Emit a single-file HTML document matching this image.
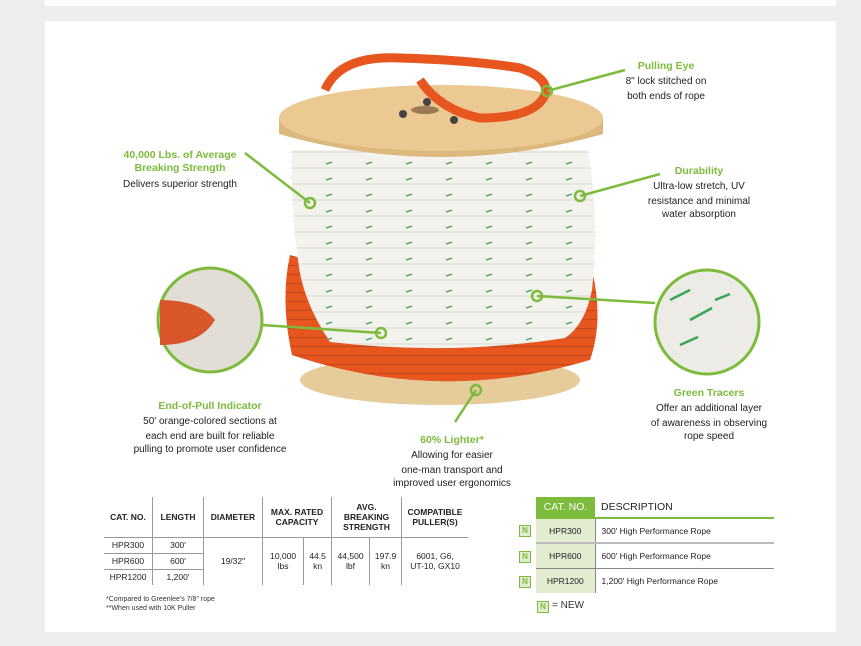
<!DOCTYPE html>
<html><head><style>
body{margin:0;width:861px;height:646px;background:#eeeeee;font-family:"Liberation Sans",sans-serif;position:relative;overflow:hidden}
.p{position:absolute;background:#fff}
.t{position:absolute;text-align:center;font-size:10px;color:#222;line-height:12.3px;transform:translateX(-50%);white-space:nowrap}
.h{color:#7dbb3c;font-weight:bold;font-size:10.5px;line-height:13px}
table{border-collapse:collapse;position:absolute;font-size:9px;color:#222}
</style></head><body>
<div class="p" style="left:45px;top:0;width:791px;height:6px"></div>
<div class="p" style="left:45px;top:21px;width:791px;height:611px"></div>
<svg style="position:absolute;left:0;top:0" width="861" height="646">
<defs>
<pattern id="g" width="40" height="16" patternUnits="userSpaceOnUse"><rect width="40" height="16" fill="#f3f2ec"/><path d="M0 8h40" stroke="#e2e1da" stroke-width="1.5"/><path d="M6 4l6 -2" stroke="#3aa55a" stroke-width="1.3"/></pattern>
<pattern id="o" width="20" height="9" patternUnits="userSpaceOnUse"><rect width="20" height="9" fill="#e8561f"/><path d="M0 4.5h20" stroke="#c54a1b" stroke-width="1.2"/></pattern>
</defs>
<ellipse cx="440" cy="380" rx="140" ry="25" fill="#e6cc9b"/>
<path d="M290 255 Q280 300 292 355 Q440 405 590 360 Q604 320 592 270 Q440 300 290 255Z" fill="url(#o)"/>
<path d="M292 150 L588 150 Q600 220 592 290 Q585 325 565 338 Q450 356 330 342 Q302 300 298 260 Q290 200 292 150Z" fill="url(#g)"/>
<path d="M279 118 L279 134 Q440 180 603 134 L603 118Z" fill="#dcb77e"/>
<ellipse cx="441" cy="118" rx="162" ry="33" fill="#ecc992"/>
<ellipse cx="425" cy="110" rx="14" ry="4" fill="#9b7a55"/>
<circle cx="403" cy="114" r="4" fill="#444"/><circle cx="427" cy="102" r="4" fill="#444"/><circle cx="454" cy="120" r="4" fill="#444"/>
<path d="M325 90 Q340 55 400 58 Q470 60 520 68 Q550 78 545 95 Q535 118 480 118 Q440 110 420 80" fill="none" stroke="#e8561f" stroke-width="9"/>
<circle cx="210" cy="320" r="52" fill="#e2ddd5" stroke="#7dbb3c" stroke-width="3"/>
<path d="M160 300 Q200 300 215 320 Q200 345 160 345Z" fill="#d9562a"/>
<circle cx="707" cy="322" r="52" fill="#ecebe6" stroke="#7dbb3c" stroke-width="3"/>
<path d="M670 300l20 -10M690 320l22 -12M680 345l18 -8M715 300l15 -6" stroke="#3aa55a" stroke-width="2.5"/>
<g stroke="#7dbb3c" stroke-width="2.5" fill="none">
<path d="M547 91L625 70M310 203L245 153M580 196L660 174M537 296L655 303M381 333L262 325M476 390L455 422"/>
<circle cx="547" cy="91" r="5"/><circle cx="310" cy="203" r="5"/><circle cx="580" cy="196" r="5"/><circle cx="537" cy="296" r="5"/><circle cx="381" cy="333" r="5"/><circle cx="476" cy="390" r="5"/>
</g>
</svg>
<div class="t" style="left:666px;top:60px"><span class="h">Pulling Eye</span><br><span style="line-height:18px">8" lock stitched on</span><br>both ends of rope</div>
<div class="t" style="left:180px;top:149px"><span class="h">40,000 Lbs. of Average<br>Breaking Strength</span><br><span style="line-height:18px">Delivers superior strength</span></div>
<div class="t" style="left:699px;top:165px"><span class="h">Durability</span><br><span style="line-height:18px">Ultra-low stretch, UV</span><br>resistance and minimal<br>water absorption</div>
<div class="t" style="left:709px;top:387px"><span class="h">Green Tracers</span><br><span style="line-height:18px">Offer an additional layer</span><br>of awareness in observing<br>rope speed</div>
<div class="t" style="left:210px;top:400px"><span class="h">End-of-Pull Indicator</span><br><span style="line-height:18px">50' orange-colored sections at</span><br>each end are built for reliable<br>pulling to promote user confidence</div>
<div class="t" style="left:452px;top:434px"><span class="h">60% Lighter*</span><br><span style="line-height:18px">Allowing for easier</span><br>one-man transport and<br>improved user ergonomics</div>
<table style="left:104px;top:497px;text-align:center;font-size:8.5px">
<tr style="font-weight:bold;height:40px;border-bottom:1px solid #999"><td style="width:46px">CAT. NO.</td><td style="width:48px;border-left:1px solid #999">LENGTH</td><td style="width:56px;border-left:1px solid #999">DIAMETER</td><td colspan="2" style="width:66px;border-left:1px solid #999">MAX. RATED<br>CAPACITY</td><td colspan="2" style="width:67px;border-left:1px solid #999">AVG.<br>BREAKING<br>STRENGTH</td><td style="width:64px;border-left:1px solid #999">COMPATIBLE<br>PULLER(S)</td></tr>
<tr style="height:16px;border-bottom:1px solid #999"><td>HPR300</td><td style="border-left:1px solid #999">300'</td><td rowspan="3" style="border-left:1px solid #999">19/32"</td><td rowspan="3" style="border-left:1px solid #999">10,000<br>lbs</td><td rowspan="3" style="border-left:1px solid #999">44.5<br>kn</td><td rowspan="3" style="border-left:1px solid #999">44,500<br>lbf</td><td rowspan="3" style="border-left:1px solid #999">197.9<br>kn</td><td rowspan="3" style="border-left:1px solid #999">6001, G6,<br>UT-10, GX10</td></tr>
<tr style="height:16px;border-bottom:1px solid #999"><td>HPR600</td><td style="border-left:1px solid #999">600'</td></tr>
<tr style="height:16px"><td>HPR1200</td><td style="border-left:1px solid #999">1,200'</td></tr>
</table>
<div style="position:absolute;left:106px;top:595px;font-size:7px;line-height:9px;color:#333">*Compared to Greenlee's 7/8" rope<br>**When used with 10K Puller</div>
<table style="left:536px;top:497px;font-size:8.5px">
<tr style="height:21px;border-bottom:2px solid #7dbb3c"><td style="width:57px;background:#7dbb3c;color:#fff;font-size:10.5px;text-align:center">CAT. NO.</td><td style="width:172px;padding-left:6px;font-size:10.5px">DESCRIPTION</td></tr>
<tr style="height:25px;border-bottom:2px solid #bbb"><td style="background:#e1ecd0;text-align:center;border-right:1px solid #888">HPR300</td><td style="padding-left:6px">300' High Performance Rope</td></tr>
<tr style="height:25px;border-bottom:1px solid #888"><td style="background:#e1ecd0;text-align:center;border-right:1px solid #888">HPR600</td><td style="padding-left:6px">600' High Performance Rope</td></tr>
<tr style="height:25px"><td style="background:#e1ecd0;text-align:center;border-right:1px solid #888">HPR1200</td><td style="padding-left:6px">1,200' High Performance Rope</td></tr>
</table>
<div style="position:absolute;left:519px;top:525px;font-size:8px;line-height:10px;color:#7dbb3c;font-weight:bold">
<div style="position:absolute;top:0;border:1px solid #7dbb3c;background:#e1ecd0;width:10px;text-align:center">N</div>
<div style="position:absolute;top:26px;border:1px solid #7dbb3c;background:#e1ecd0;width:10px;text-align:center">N</div>
<div style="position:absolute;top:51px;border:1px solid #7dbb3c;background:#e1ecd0;width:10px;text-align:center">N</div>
<div style="position:absolute;left:18px;top:76px;border:1px solid #7dbb3c;background:#e1ecd0;width:10px;text-align:center">N</div>
<div style="position:absolute;left:33px;top:76px;color:#333;font-weight:normal;font-size:10px;white-space:nowrap">= NEW</div>
</div>
</body></html>
